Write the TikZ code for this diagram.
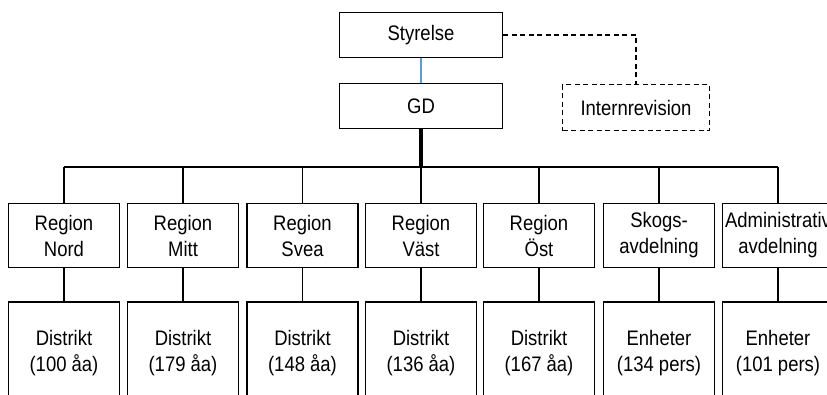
\documentclass[tikz,border=0pt]{standalone}
\usepackage{fontspec}
\setmainfont[FakeStretch=0.88]{Liberation Sans}
\begin{document}
\begin{tikzpicture}[x=1pt,y=-1pt,
  every node/.style={font=\fontsize{21}{26}\selectfont, align=center, inner sep=0pt},
  box/.style={draw, line width=1.8pt, minimum width=111pt, minimum height=64pt},
  topbox/.style={draw, line width=1.8pt, minimum width=163pt, minimum height=45pt},
  lowbox/.style={draw, line width=1.8pt, minimum width=111pt, minimum height=102pt},
  dashbox/.style={draw, line width=1.8pt, dash pattern=on 5pt off 3.5pt, minimum width=147pt, minimum height=46pt},
  link/.style={line width=1.7pt},
  thick link/.style={line width=3.3pt}]
\useasboundingbox (0,0) rectangle (827,394);
\clip (0,0) rectangle (827,394);

\node[topbox] (sty) at (421,35) {Styrelse};
\node[topbox] (gd) at (421,106) {GD};
\node[dashbox] (rev) at (636,107.5) {Internrevision};

\draw[line width=1.2pt, draw={rgb,255:red,91;green,155;blue,213}] (sty) -- (gd);
\draw[line width=1.8pt, dash pattern=on 5pt off 3.5pt] (sty.east) -| (rev.north);

\coordinate (bus) at (421,167);
\draw[thick link] (gd.south) -- (bus);

\foreach \i/\x/\a/\b/\c/\d in {
  1/64/Region/Nord/Distrikt/(100 åa),
  2/183/Region/Mitt/Distrikt/(179 åa),
  3/302.5/Region/Svea/Distrikt/(148 åa),
  4/421/Region/Väst/Distrikt/(136 åa),
  5/539/Region/Öst/Distrikt/(167 åa),
  6/659/Skogs-/avdelning/Enheter/(134 pers),
  7/778/Administrativ/avdelning/Enheter/(101 pers)} {
  \node[box] (r\i) at (\x,235.5) {\a\\\b};
  \node[lowbox] (d\i) at (\x,353) {\c\\\d};
  \coordinate (t\i) at (\x,167);
  \draw[link] (t\i) -- (r\i.north);
  \draw[link] (r\i.south) -- (d\i.north);
}
\draw[line width=2.3pt] (t1) -- (t7);
\end{tikzpicture}
\end{document}
